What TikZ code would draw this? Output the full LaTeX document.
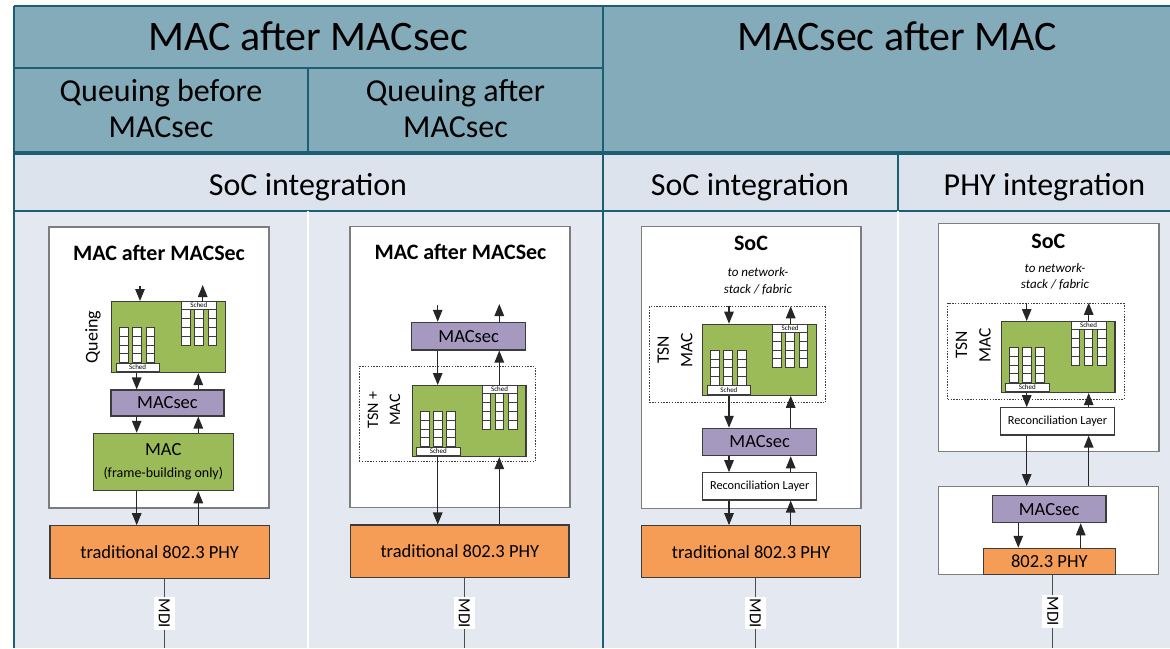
\documentclass[tikz,border=0pt]{standalone}
\usepackage{fontspec}
\setmainfont{Carlito}
\usetikzlibrary{arrows.meta, fit, positioning}

\definecolor{hdrfill}{RGB}{132,171,185}
\definecolor{gridcol}{RGB}{28,94,114}
\definecolor{rowfill}{RGB}{221,227,236}
\definecolor{bodyfill}{RGB}{228,232,240}
\definecolor{qgreen}{RGB}{155,187,89}
\definecolor{secpurple}{RGB}{166,153,192}
\definecolor{phyorange}{RGB}{245,157,87}
\definecolor{socline}{RGB}{125,125,125}
\definecolor{boxline}{RGB}{60,60,60}

\begin{document}
\begin{tikzpicture}[
    x=1pt, y=-1pt,
    every node/.style={inner sep=0pt},
    gridln/.style ={draw=gridcol, line width=1.5pt},
    hdr/.style    ={font=\fontsize{42}{50}\selectfont},
    sub/.style    ={font=\fontsize{32}{36}\selectfont, align=center},
    soc/.style    ={draw=socline, line width=1.4pt, fill=white},
    ttl/.style    ={font=\fontsize{22}{24}\selectfont\bfseries},
    note/.style   ={font=\fontsize{13}{16.5}\selectfont\itshape, align=center},
    box/.style    ={draw=boxline, line width=1.1pt},
    macsec/.style ={box, fill=secpurple, font=\fontsize{18.5}{22}\selectfont},
    phy/.style    ={box, fill=phyorange, font=\fontsize{18.5}{22}\selectfont},
    recon/.style  ={box, fill=white, font=\fontsize{12.3}{14}\selectfont},
    queue/.style  ={box, fill=qgreen, minimum width=113.7pt, minimum height=71pt},
    tsn/.style    ={draw=boxline, line width=0.9pt, dash pattern=on 1.4pt off 1.4pt},
    cell/.style   ={draw=boxline, fill=white, line width=0.7pt},
    sched/.style  ={cell, minimum height=8.3pt, font=\fontsize{7}{7}\selectfont},
    sidelbl/.style={rotate=90, align=center},
    arr/.style    ={-{Triangle[length=12pt, width=9.5pt]}, line width=1.2pt,
                    draw=black!85},
    wire/.style   ={draw=black!70, line width=1pt},
    mdi/.style    ={fill=white, rotate=-90, inner xsep=1.5pt, inner ysep=5pt,
                    font=\fontsize{17}{17}\selectfont},
  ]

  %% --- background, table grid ------------------------------------------
  \useasboundingbox (0,0) rectangle (1170,648);
  \fill[hdrfill]  (14,6)   rectangle (1170,153);
  \fill[rowfill]  (14,153) rectangle (1170,211);
  \fill[bodyfill] (14,211) rectangle (1170,648);
  \draw[gridln] (14,6) -- (1170,6);
  \draw[gridln] (14,68) -- (603,68);
  \draw[gridln] (308,68) -- (308,153);
  \draw[gridln] (898,153) -- (898,211);
  \draw[gridln] (14,211) -- (1170,211);
  \draw[white, line width=2pt] (308,211) -- (308,648);
  \draw[white, line width=2pt] (898,211) -- (898,648);
  \draw[gridln, line width=2pt] (14,6) -- (14,648);
  \draw[gridln, line width=2pt] (603,6) -- (603,648);
  \draw[gridln, line width=3.5pt] (14,153) -- (1170,153);

  % header texts
  \node[hdr, anchor=base] (colA) at (308.5,50) {MAC after MACsec};
  \node[hdr, anchor=base] (colB) at (897,50) {MACsec after MAC};
  \node[sub] (subA) at (161,109) {Queuing before\\MACsec};
  \node[sub] (subB) at (455.5,109) {Queuing after\\MACsec};
  \node[sub, anchor=base] (intA) at (308,195) {SoC integration};
  \node[sub, anchor=base] (intB) at (750,195) {SoC integration};
  \node[sub, anchor=base] (intC) at (1044.5,195) {PHY integration};

  %% --- outer boxes (drawn first, behind the blocks) ----------------------
  \node[soc, fit={(49,227) (269,508)}] (soc1) {};
  \node[soc, fit={(350,226.7) (570,507.7)}] (soc2) {};
  \node[soc, fit={(641.7,226.7) (861,508.3)}] (soc3) {};
  \node[soc, fit={(938.3,223.3) (1159,451.7)}] (soc4) {};
  \node[soc, fit={(938.3,486.7) (1158.3,574.3)}] (low4) {};
  % dotted TSN frames
  \node[tsn, fit={(359,366.7) (535,461.7)}] (tsn2) {};
  \node[tsn, fit={(649.3,306.7) (825.3,402.7)}] (tsn3) {};
  \node[tsn, fit={(947.7,303.3) (1124,399)}] (tsn4) {};

  %% --- queue blocks (green, two groups of queues each) ------------------
  \foreach \n/\qx/\qy in {1/111/301, 2/411.7/385, 3/702.3/323.7, 4/1000.7/321}{
    \node[queue, anchor=north west] (q\n) at (\qx,\qy) {};
    \begin{scope}[shift={(\qx,\qy)}]
      \foreach \cx in {8.5,21.5,35}
        \foreach \r in {0,...,3}
          \draw[cell] (\cx,{26.5+8.75*\r}) rectangle ++(8.7,8.75);
      \foreach \cx in {70.5,83.5,97}
        \foreach \r in {0,...,3}
          \draw[cell] (\cx,{8.5+8.875*\r}) rectangle ++(8.5,8.875);
      \node[sched, minimum width=43.5pt, anchor=north west] (sl\n) at (4.5,61.5) {Sched};
      \node[sched, minimum width=35pt, anchor=north west] (sr\n) at (70,0) {Sched};
    \end{scope}
  }

  %% =====================================================================
  %% Panel 1: queuing before MACsec
  %% =====================================================================
  \node[ttl, anchor=base] (t1) at (159,260) {MAC after MACSec};
  \node[sidelbl, font=\fontsize{18}{20}\selectfont] (lq1) at (93,337) {Queing};
  \node[macsec, minimum width=113pt, minimum height=26pt] (sec1) at (167.5,403) {MACsec};
  \node[box, fill=qgreen, align=center, font=\fontsize{18.5}{22}\selectfont,
        minimum width=140pt, minimum height=57.4pt] (mac1) at (163.3,462)
        {MAC\\{\fontsize{14}{22}\selectfont (frame-building only)}};
  \node[phy, minimum width=219.3pt, minimum height=52.6pt] (phy1) at (159.65,552)
        {traditional 802.3 PHY};
  \coordinate (in1) at (140,286);
  \coordinate (out1) at (202.7,285);
  \coordinate (dn1) at (136.7,0);
  \coordinate (up1) at (198.3,0);
  \coordinate (m1) at (164.3,648);
  \draw[arr] (in1) -- (q1.north -| in1);
  \draw[arr] (q1.north -| out1) -- (out1);
  \draw[arr] (q1.south -| dn1) -- (sec1.north -| dn1);
  \draw[arr] (sec1.north -| up1) -- (q1.south -| up1);
  \draw[arr] (sec1.south -| dn1) -- (mac1.north -| dn1);
  \draw[arr] (mac1.north -| up1) -- (sec1.south -| up1);
  \draw[arr] (mac1.south -| dn1) -- (phy1.north -| dn1);
  \draw[arr] (phy1.north -| up1) -- (mac1.south -| up1);
  \draw[wire] (phy1.south -| m1) -- (m1) node[mdi, midway] (mdi1) {MDI};

  %% =====================================================================
  %% Panel 2: queuing after MACsec
  %% =====================================================================
  \node[ttl, anchor=base] (t2) at (460.5,259.3) {MAC after MACSec};
  \node[sidelbl, font=\fontsize{16}{22}\selectfont] (lq2) at (384,410) {TSN +\\MAC};
  \node[macsec, minimum width=114pt, minimum height=27.7pt] (sec2) at (468.7,336.15) {MACsec};
  \node[phy, minimum width=218.3pt, minimum height=52.7pt] (phy2) at (459.85,551.35)
        {traditional 802.3 PHY};
  \coordinate (in2) at (437.7,305);
  \coordinate (out2) at (499.3,304);
  \coordinate (dn2) at (437.7,0);
  \coordinate (up2) at (499.3,0);
  \coordinate (m2) at (464.3,648);
  \draw[arr] (in2) -- (sec2.north -| in2);
  \draw[arr] (sec2.north -| out2) -- (out2);
  \draw[arr] (sec2.south -| dn2) -- (q2.north -| dn2);
  \draw[arr] (q2.north -| up2) -- (sec2.south -| up2);
  \draw[arr] (q2.south -| dn2) -- (phy2.north -| dn2);
  \draw[arr] (phy2.north -| up2) -- (q2.south -| up2);
  \draw[wire] (phy2.south -| m2) -- (m2) node[mdi, midway] (mdi2) {MDI};

  %% =====================================================================
  %% Panel 3: MACsec after MAC, SoC integration
  %% =====================================================================
  \node[ttl, anchor=base] (t3) at (751,250.7) {SoC};
  \node[note] (n3) at (758,281) {to network-\\stack / fabric};
  \node[sidelbl, font=\fontsize{17.5}{23.5}\selectfont] (lq3) at (675,350) {TSN\\MAC};
  \node[macsec, minimum width=114pt, minimum height=27.4pt] (sec3) at (759.7,442) {MACsec};
  \node[recon, minimum width=114pt, minimum height=27.3pt] (rec3) at (759.7,486.35)
        {Reconciliation Layer};
  \node[phy, minimum width=219pt, minimum height=52pt] (phy3) at (751.2,551.7)
        {traditional 802.3 PHY};
  \coordinate (dn3) at (729,0);
  \coordinate (up3) at (790.7,0);
  \coordinate (m3) at (755.3,648);
  \draw[arr] (tsn3.north -| dn3) -- (q3.north -| dn3);
  \draw[arr] (q3.north -| up3) -- (tsn3.north -| up3);
  \draw[arr] (q3.south -| dn3) -- (sec3.north -| dn3);
  \draw[arr] (sec3.north -| up3) -- (q3.south -| up3);
  \draw[arr] (sec3.south -| dn3) -- (rec3.north -| dn3);
  \draw[arr] (rec3.north -| up3) -- (sec3.south -| up3);
  \draw[arr] (rec3.south -| dn3) -- (phy3.north -| dn3);
  \draw[arr] (phy3.north -| up3) -- (rec3.south -| up3);
  \draw[wire] (phy3.south -| m3) -- (m3) node[mdi, midway] (mdi3) {MDI};

  %% =====================================================================
  %% Panel 4: MACsec after MAC, PHY integration
  %% =====================================================================
  \node[ttl, anchor=base] (t4) at (1048.3,248.3) {SoC};
  \node[note] (n4) at (1055,276.5) {to network-\\stack / fabric};
  \node[sidelbl, font=\fontsize{17.5}{23.5}\selectfont] (lq4) at (973.3,345) {TSN\\MAC};
  \node[recon, minimum width=113.6pt, minimum height=27.3pt] (rec4) at (1057.5,421.35)
        {Reconciliation Layer};
  \node[macsec, minimum width=113.7pt, minimum height=27pt] (sec4) at (1049.15,509.2) {MACsec};
  \node[phy, minimum width=132pt, minimum height=26pt] (phy4) at (1049.3,561.3) {802.3 PHY};
  \coordinate (dn4) at (1026.7,0);
  \coordinate (up4) at (1088.7,0);
  \coordinate (dn4b) at (1018.3,0);
  \coordinate (up4b) at (1080.7,0);
  \coordinate (m4) at (1052.7,648);
  \draw[arr] (tsn4.north -| dn4) -- (q4.north -| dn4);
  \draw[arr] (q4.north -| up4) -- (tsn4.north -| up4);
  \draw[arr] (q4.south -| dn4) -- (rec4.north -| dn4);
  \draw[arr] (rec4.north -| up4) -- (q4.south -| up4);
  \draw[arr] (rec4.south -| dn4) -- (low4.north -| dn4);
  \draw[arr] (low4.north -| up4) -- (rec4.south -| up4);
  \draw[arr] (sec4.south -| dn4b) -- (phy4.north -| dn4b);
  \draw[arr] (phy4.north -| up4b) -- (sec4.south -| up4b);
  \draw[wire] (phy4.south -| m4) -- (m4) node[mdi, midway] (mdi4) {MDI};

\end{tikzpicture}
\end{document}
